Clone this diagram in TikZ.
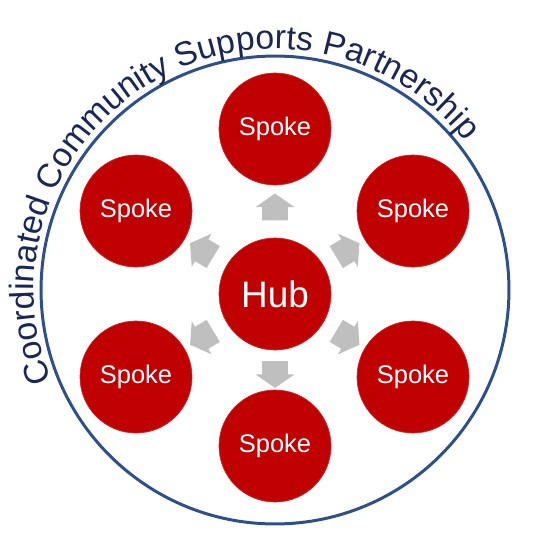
\documentclass[tikz,border=0pt]{standalone}
\usepackage{fontspec}
\setmainfont{Liberation Sans}
\setsansfont{Liberation Sans}
\usepackage{xcolor}
\usetikzlibrary{shapes.arrows,calc,decorations.text}
\definecolor{hubred}{RGB}{192,0,0}
\definecolor{ringblue}{RGB}{47,79,138}
\definecolor{titlenavy}{RGB}{26,38,84}
\definecolor{pushgray}{RGB}{191,191,191}
\tikzset{
  spoke/.style={circle,fill=hubred,draw=hubred!85!white,line width=0.4pt,minimum size=2.24cm,inner sep=0pt,text=white,font=\fontsize{14.5}{15}\selectfont},
  hubnode/.style={spoke,font=\fontsize{21}{22}\selectfont},
  push/.style={single arrow,fill=pushgray,draw=none,inner sep=0pt,inner ysep=0.25cm,minimum height=0.54cm,single arrow head extend=0.13cm,single arrow tip angle=110}
}

\begin{document}
\begin{tikzpicture}[x=0.02cm,y=0.02cm]
\useasboundingbox (0,0) rectangle (541,538);
% outer ring
\draw[ringblue,line width=1.7pt] (275,248) circle (4.68cm);
\path[decorate,decoration={text along path,text align=center,
  text={|\fontsize{19.2}{19}\selectfont\color{titlenavy}|Coordinated Community Supports Partnership}}]
  (275,248) ++(209:4.82cm) arc[start angle=209,end angle=31,radius=4.82cm];
% hub and spokes
\node[hubnode] (hub) at (275,244) {Hub};
\node[spoke] (s1) at (275,409) {Spoke};
\node[spoke] (s2) at (413,327) {Spoke};
\node[spoke] (s3) at (413,161) {Spoke};
\node[spoke] (s4) at (275,92) {Spoke};
\node[spoke] (s5) at (136,161) {Spoke};
\node[spoke] (s6) at (136,327) {Spoke};
% block arrows
\node[push,rotate=90] (p1) at ($(hub)!0.5!(s1)$) {};
\node[push,rotate=31] (p2) at ($(hub)!0.5!(s2)$) {};
\node[push,rotate=-31] (p3) at ($(hub)!0.5!(s3)$) {};
\node[push,rotate=-90] (p4) at ($(hub)!0.5!(s4)$) {};
\node[push,rotate=211] (p5) at ($(hub)!0.5!(s5)$) {};
\node[push,rotate=149] (p6) at ($(hub)!0.5!(s6)$) {};
\end{tikzpicture}
\end{document}
